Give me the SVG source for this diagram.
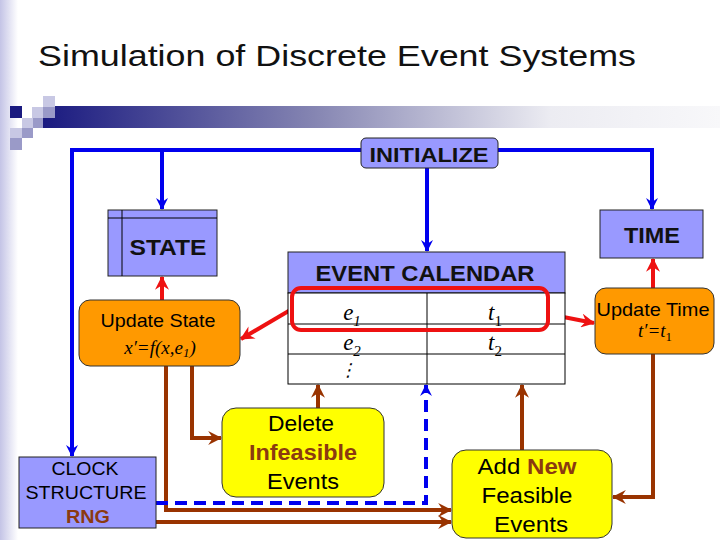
<svg xmlns="http://www.w3.org/2000/svg" width="720" height="540" viewBox="0 0 720 540">
<defs>
<linearGradient id="edge" x1="0" y1="0" x2="1" y2="0">
<stop offset="0" stop-color="#c4c4e6"/><stop offset="1" stop-color="#ffffff"/>
</linearGradient>
<linearGradient id="bar" x1="0" y1="0" x2="1" y2="0">
<stop offset="0" stop-color="#1a1a80"/><stop offset="0.4" stop-color="#8585b2"/><stop offset="0.75" stop-color="#ececf2"/><stop offset="1" stop-color="#f8f8fa"/>
</linearGradient>
<marker id="ab" viewBox="0 0 12 12" refX="11" refY="6" markerWidth="12" markerHeight="12" markerUnits="userSpaceOnUse" orient="auto">
<path d="M0,0 L12,6 L0,12 L4,6 Z" fill="#0000ee"/>
</marker>
<marker id="ar" viewBox="0 0 12 12" refX="11" refY="6" markerWidth="14" markerHeight="14" markerUnits="userSpaceOnUse" orient="auto">
<path d="M0,0 L12,6 L0,12 L4,6 Z" fill="#ee1111"/>
</marker>
<marker id="an" viewBox="0 0 12 12" refX="11" refY="6" markerWidth="14" markerHeight="14" markerUnits="userSpaceOnUse" orient="auto">
<path d="M0,0 L12,6 L0,12 L4,6 Z" fill="#993300"/>
</marker>
<style>
.lav{fill:#9999ff;stroke:#222;stroke-width:1}
.org{fill:#ff9900;stroke:#333;stroke-width:1}
.yel{fill:#ffff00;stroke:#333;stroke-width:1}
.t{font-family:"Liberation Sans",Arial,sans-serif;text-anchor:middle;fill:#000}
.b{font-weight:bold;fill:#111}
.m{font-family:"Liberation Serif","Times New Roman",serif;font-style:italic;text-anchor:middle;fill:#000}
.br{fill:#8b3a10;font-weight:bold}
.blue{stroke:#0000ee;stroke-width:4;fill:none}
.red{stroke:#ee1111;stroke-width:4;fill:none}
.brn{stroke:#993300;stroke-width:4;fill:none}
.tl{stroke:#000;stroke-width:1;fill:none}
</style>
</defs>
<rect width="720" height="540" fill="#fff"/>
<rect x="0" y="0" width="18" height="540" fill="url(#edge)"/>
<g id="decoration">
<rect x="43" y="106" width="677" height="22" fill="url(#bar)"/>
<rect x="10" y="106" width="12" height="12" fill="#1a1a80"/>
<rect x="43" y="96" width="12" height="11" fill="#c8c8e4"/>
<rect x="32" y="107" width="11" height="11" fill="#c8c8e4"/>
<rect x="43" y="107" width="12" height="11" fill="#9a9ac8"/>
<rect x="22" y="118" width="11" height="10" fill="#c8c8e4"/>
<rect x="33" y="118" width="10" height="10" fill="#9a9ac8"/>
<rect x="10" y="128" width="12" height="10" fill="#c8c8e4"/>
<rect x="22" y="128" width="11" height="10" fill="#9a9ac8"/>
<rect x="10" y="138" width="12" height="12" fill="#9a9ac8"/>
</g>
<text x="38" y="66" font-family="Liberation Sans,Arial,sans-serif" font-size="30" fill="#111" textLength="598" lengthAdjust="spacingAndGlyphs">Simulation of Discrete Event Systems</text>
<g id="connectors">
<path class="blue" d="M361,150 H72 V456" marker-end="url(#ab)"/>
<path class="blue" d="M498,150 H652 V209" marker-end="url(#ab)"/>
<path class="blue" d="M162,150 V209" marker-end="url(#ab)"/>
<path class="blue" d="M427,168 V251" marker-end="url(#ab)"/>
<path class="red" d="M162,300 V277" marker-end="url(#ar)"/>
<path class="red" d="M653,288 V259" marker-end="url(#ar)"/>
<path class="red" d="M292,309 L241,339" marker-end="url(#ar)"/>
<path class="red" d="M548,314 L594,323" marker-end="url(#ar)"/>
<path class="brn" d="M318,408 V385" marker-end="url(#an)"/>
<path class="brn" d="M522,450 V385" marker-end="url(#an)"/>
<path class="brn" d="M192,366 V438 H221" marker-end="url(#an)"/>
<path class="brn" d="M166,366 V510 H451" marker-end="url(#an)"/>
<path class="brn" d="M156,522 H451" marker-end="url(#an)"/>
<path class="brn" d="M653,354 V497 H613" marker-end="url(#an)"/>
<path class="blue" d="M156,503 H426 V385" stroke-dasharray="12,7" marker-end="url(#ab)"/>
</g>
<g id="initialize">
<rect class="lav" x="361" y="138" width="137" height="30" rx="5"/>
<text class="t b" x="429" y="162" font-size="21" textLength="119" lengthAdjust="spacingAndGlyphs">INITIALIZE</text>
</g>
<g id="state">
<rect class="lav" x="108" y="210" width="109" height="66"/>
<path class="tl" d="M122,210 V276 M108,218 H217"/>
<text class="t b" x="168" y="255" font-size="22" textLength="77" lengthAdjust="spacingAndGlyphs">STATE</text>
</g>
<g id="time">
<rect class="lav" x="600" y="210" width="103" height="48"/>
<text class="t b" x="652" y="243" font-size="22" textLength="56" lengthAdjust="spacingAndGlyphs">TIME</text>
</g>
<g id="event-calendar">
<rect class="lav" x="288" y="252" width="277" height="41"/>
<text class="t b" x="425" y="281" font-size="22" textLength="219" lengthAdjust="spacingAndGlyphs">EVENT CALENDAR</text>
<rect x="288" y="293" width="277" height="91" fill="#fff" stroke="#000" stroke-width="1"/>
<path class="tl" d="M288,324 H565 M288,354 H565 M427,293 V384"/>
<rect x="292" y="288" width="256" height="42" rx="9" fill="none" stroke="#ee1111" stroke-width="4"/>
<text class="m" x="352" y="320" font-size="23">e<tspan font-size="15" dy="6">1</tspan></text>
<text class="m" x="495" y="320" font-size="23">t<tspan font-size="15" dy="6" font-style="normal">1</tspan></text>
<text class="m" x="352" y="350" font-size="23">e<tspan font-size="15" dy="6">2</tspan></text>
<text class="m" x="495" y="350" font-size="23">t<tspan font-size="15" dy="6" font-style="normal">2</tspan></text>
<text class="m" x="348" y="376" font-size="18" font-style="normal">⋮</text>
</g>
<g id="update-state">
<rect class="org" x="79" y="300" width="161" height="66" rx="11"/>
<text class="t" x="158" y="327" font-size="19" textLength="115" lengthAdjust="spacingAndGlyphs">Update State</text>
<text class="m" x="160" y="354" font-size="19">x′=f(x,e<tspan font-size="13" dy="3">1</tspan><tspan dy="-3">)</tspan></text>
</g>
<g id="update-time">
<rect class="org" x="595" y="288" width="119" height="66" rx="11"/>
<text class="t" x="653" y="316" font-size="19" textLength="113" lengthAdjust="spacingAndGlyphs">Update Time</text>
<text class="m" x="655" y="337" font-size="19">t′=t<tspan font-size="13" dy="4" font-style="normal">1</tspan></text>
</g>
<g id="delete">
<rect class="yel" x="222" y="408" width="162" height="89" rx="14"/>
<text class="t" x="301" y="431" font-size="22" textLength="66" lengthAdjust="spacingAndGlyphs">Delete</text>
<text class="t br" x="303" y="460" font-size="22" textLength="108" lengthAdjust="spacingAndGlyphs">Infeasible</text>
<text class="t" x="303" y="489" font-size="22" textLength="72" lengthAdjust="spacingAndGlyphs">Events</text>
</g>
<g id="add-new">
<rect class="yel" x="452" y="450" width="160" height="88" rx="14"/>
<text class="t" x="527" y="474" font-size="22" textLength="99" lengthAdjust="spacingAndGlyphs">Add <tspan class="br">New</tspan></text>
<text class="t" x="527" y="503" font-size="22" textLength="91" lengthAdjust="spacingAndGlyphs">Feasible</text>
<text class="t" x="531" y="532" font-size="22" textLength="74" lengthAdjust="spacingAndGlyphs">Events</text>
</g>
<g id="clock">
<rect class="lav" x="19" y="457" width="137" height="71"/>
<text class="t" x="85" y="475" font-size="19" textLength="67" lengthAdjust="spacingAndGlyphs">CLOCK</text>
<text class="t" x="86" y="499" font-size="19" textLength="121" lengthAdjust="spacingAndGlyphs">STRUCTURE</text>
<text class="t br" x="88" y="523" font-size="19" textLength="44" lengthAdjust="spacingAndGlyphs">RNG</text>
</g>
</svg>
